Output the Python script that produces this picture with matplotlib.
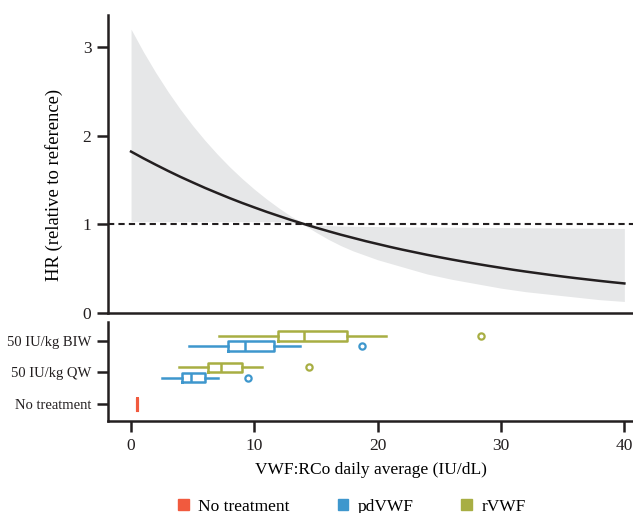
import numpy as np
import matplotlib
matplotlib.use("Agg")
import matplotlib.pyplot as plt
from matplotlib.patches import Patch

plt.rcParams["font.family"] = ["Liberation Serif", "DejaVu Serif"]

# HR curve and band at 1 IU/dL steps
vwf_x = list(range(0, 41))
hr = [1.820, 1.744, 1.672, 1.602, 1.535, 1.472, 1.410, 1.352, 1.295, 1.241,
      1.190, 1.140, 1.093, 1.047, 1.004, 0.962, 0.922, 0.883, 0.847, 0.811,
      0.778, 0.745, 0.714, 0.685, 0.656, 0.629, 0.603, 0.578, 0.554, 0.531,
      0.509, 0.487, 0.467, 0.448, 0.429, 0.411, 0.394, 0.378, 0.362, 0.347,
      0.333]
hr_upper = [3.200, 2.945, 2.711, 2.495, 2.296, 2.113, 1.945, 1.790, 1.647, 1.516,
            1.395, 1.284, 1.182, 1.088, 1.010, 0.990, 0.985, 0.980, 0.978, 0.976,
            0.974, 0.972, 0.971, 0.970, 0.969, 0.968, 0.967, 0.966, 0.965, 0.964,
            0.963, 0.962, 0.961, 0.960, 0.959, 0.958, 0.957, 0.956, 0.955, 0.954,
            0.953]
hr_lower = [1.030, 1.030, 1.030, 1.030, 1.030, 1.030, 1.030, 1.030, 1.030, 1.030,
            1.030, 1.030, 1.030, 1.020, 0.995, 0.910, 0.830, 0.760, 0.700, 0.650,
            0.600, 0.560, 0.520, 0.480, 0.440, 0.410, 0.380, 0.355, 0.330, 0.305,
            0.280, 0.260, 0.240, 0.225, 0.210, 0.195, 0.180, 0.165, 0.150, 0.140,
            0.130]

# box plots (whislo, q1, median, q3, whishi, outlier)
categories = ["No treatment", "50 IU/kg QW", "50 IU/kg BIW"]
no_treatment = [0.46, 0.46, 0.46, 0.46, 0.46, None]
pdvwf_qw = [2.5, 4.1, 4.85, 6.0, 7.07, 9.5]
pdvwf_biw = [4.7, 7.86, 9.2, 11.6, 13.7, 18.7]
rvwf_qw = [3.85, 6.2, 7.3, 9.0, 10.65, 14.4]
rvwf_biw = [7.15, 11.95, 14.0, 17.5, 20.7, 28.4]

red = "#F15A3E"
blue = "#3E97CD"
green = "#A8AE43"
dark = "#231F20"


def stats(v):
    return dict(whislo=v[0], q1=v[1], med=v[2], q3=v[3], whishi=v[4],
                fliers=[] if v[5] is None else [v[5]])


fig = plt.figure(figsize=(6.33, 5.13), dpi=100)
ax1 = fig.add_axes([0.1706, 0.3899, 0.8294, 0.5809])
ax2 = fig.add_axes([0.1706, 0.1793, 0.8294, 0.1930], sharex=ax1)

ax1.fill_between(vwf_x, hr_lower, hr_upper, color="#E6E7E8", lw=0)
ax1.plot(vwf_x, hr, color=dark, lw=1.8)
ax1.axhline(1, color=dark, lw=1.5, ls=(0, (3, 2)))
ax1.set_ylim(0, 3.36)
ax1.set_yticks([0, 1, 2, 3])
ax1.set_ylabel("HR (relative to reference)", fontsize=13.4)
ax1.yaxis.set_label_coords(-0.086, 0.43)

off = 0.16
groups = [
    (no_treatment, 0, red, 0.37, 2.2),
    (pdvwf_qw, 1 - off, blue, 0.3, 1.8),
    (pdvwf_biw, 2 - off, blue, 0.3, 1.8),
    (rvwf_qw, 1 + off, green, 0.3, 1.8),
    (rvwf_biw, 2 + off, green, 0.3, 1.8),
]
for vals, pos, col, w, lw in groups:
    ax2.bxp([stats(vals)], positions=[pos], widths=w, vert=False,
            showcaps=False,
            boxprops=dict(color=col, lw=lw),
            medianprops=dict(color=col, lw=lw),
            whiskerprops=dict(color=col, lw=lw),
            flierprops=dict(marker="o", markersize=4.5, markerfacecolor="white",
                            markeredgecolor=col, markeredgewidth=1.6))

ax2.set_ylim(-0.54, 2.6)
ax2.set_yticks([0, 1, 2])
ax2.set_yticklabels(categories)
ax2.set_xlim(-1.87, 40.7)
ax2.set_xticks([0, 10, 20, 30, 40])
ax2.set_xlabel("VWF:RCo daily average (IU/dL)", fontsize=12.5, labelpad=6)

for ax in (ax1, ax2):
    for s in ("top", "right"):
        ax.spines[s].set_visible(False)
    for s in ("left", "bottom"):
        ax.spines[s].set_linewidth(1.8)
        ax.spines[s].set_color(dark)
    ax.tick_params(direction="out", length=8, width=1.8, color=dark,
                   labelsize=12.5, labelcolor=dark, pad=4)
ax2.tick_params(axis="y", labelsize=10.5)
ax1.tick_params(axis="x", which="both", bottom=False, labelbottom=False)

handles = [Patch(color=red, label="No treatment"),
           Patch(color=blue, label="pdVWF"),
           Patch(color=green, label="rVWF")]
fig.legend(handles=handles, loc="center", bbox_to_anchor=(0.556, 0.012),
           ncol=3, frameon=False, fontsize=12.5, handlelength=0.6,
           handleheight=0.6, columnspacing=2.75, handletextpad=0.55)

fig.savefig("out.png", dpi=100)
